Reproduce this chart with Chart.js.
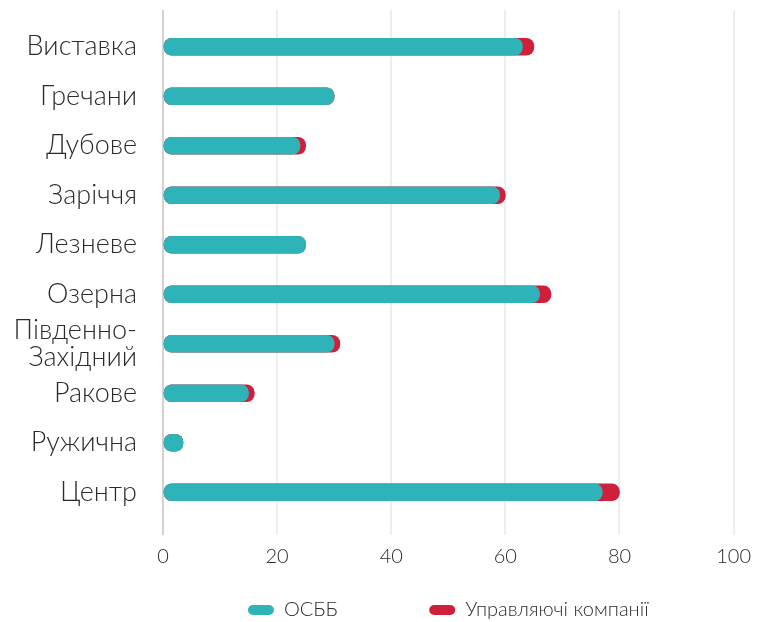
<!DOCTYPE html>
<html>
<head>
<meta charset="utf-8">
<script src="https://cdn.jsdelivr.net/npm/chart.js@4"></script>
<style>
  html, body { margin: 0; padding: 0; background: #fff; }
  #wrap { width: 761px; height: 622px; }
</style>
</head>
<body>
<div id="wrap"><canvas id="chart"></canvas></div>
<script>
// districts
const districts = ['Виставка', 'Гречани', 'Дубове', 'Заріччя', 'Лезневе', 'Озерна',
  ['Південно-', 'Західний'], 'Ракове', 'Ружична', 'Центр'];

// houses run by ОСББ and by management companies
const osbb = [63, 30, 24, 59, 25, 66, 30, 15, 3.5, 77];
const uk   = [2, 0, 1, 1, 0, 2, 1, 1, 0, 3];

const xTicks = [0, 20, 40, 60, 80, 100];

const seriesNames = ['ОСББ', 'Управляючі компанії'];

// red bar sits under the teal one, so it runs to the total
const totals = osbb.map((v, i) => v + uk[i]);

const ctx = document.querySelector('#chart');

const gridColor = c => c.index === 0 ? '#d8d0d0' : '#eeeeee';

const chart = new Chart(ctx, {
  type: 'bar',
  data: {
    labels: districts,
    datasets: [
      {
        label: seriesNames[0],
        data: osbb,
        backgroundColor: '#2eb4b8',
        borderRadius: 8,
        borderSkipped: false,
        barThickness: 17
      },
      {
        label: seriesNames[1],
        data: totals,
        backgroundColor: '#cf1f3a',
        borderRadius: 8,
        borderSkipped: false,
        barThickness: 17
      }
    ]
  },
  options: {
    indexAxis: 'y',
    responsive: true,
    maintainAspectRatio: false,
    animation: false,
    layout: {
      padding: { top: 10, left: 0, right: 23, bottom: -8 }
    },
    scales: {
      y: {
        stacked: true,
        grid: { display: false, drawTicks: false },
        border: { display: false },
        ticks: {
          autoSkip: false,
          padding: 26,
          color: '#2b2b2b',
          font: { family: 'Lato', size: 27, weight: 300, lineHeight: 1.0 }
        },
        afterFit: s => {
          s.width = 163;
          s.paddingTop = 0;
          s.paddingBottom = 0;
        }
      },
      x: {
        stacked: false,
        min: 0,
        max: 100,
        afterBuildTicks: s => { s.ticks = xTicks.map(v => ({ value: v })); },
        grid: { color: gridColor, lineWidth: 2, tickLength: 18 },
        border: { display: false },
        ticks: {
          padding: 10,
          color: '#2b2b2b',
          font: { family: 'Lato', size: 20, weight: 300 }
        }
      },
      x2: {
        position: 'top',
        min: 0,
        max: 100,
        afterBuildTicks: s => { s.ticks = xTicks.map(v => ({ value: v })); },
        grid: { color: gridColor, lineWidth: 2, tickLength: 12, drawOnChartArea: false },
        border: { display: false },
        ticks: { display: false }
      }
    },
    plugins: {
      legend: {
        position: 'bottom',
        fullSize: false,
        labels: {
          padding: 21,
          boxWidth: 26,
          boxHeight: 10,
          useBorderRadius: true,
          borderRadius: 5,
          color: '#2b2b2b',
          font: { family: 'Lato', size: 20, weight: 300 },
          generateLabels: c => {
            const items = Chart.defaults.plugins.legend.labels.generateLabels(c);
            // keep the gap between the two entries wide, as in the print
            items[0].text = items[0].text + '\u00A0'.repeat(13);
            return items;
          }
        }
      },
      tooltip: { enabled: false }
    }
  }
});
</script>
</body>
</html>
